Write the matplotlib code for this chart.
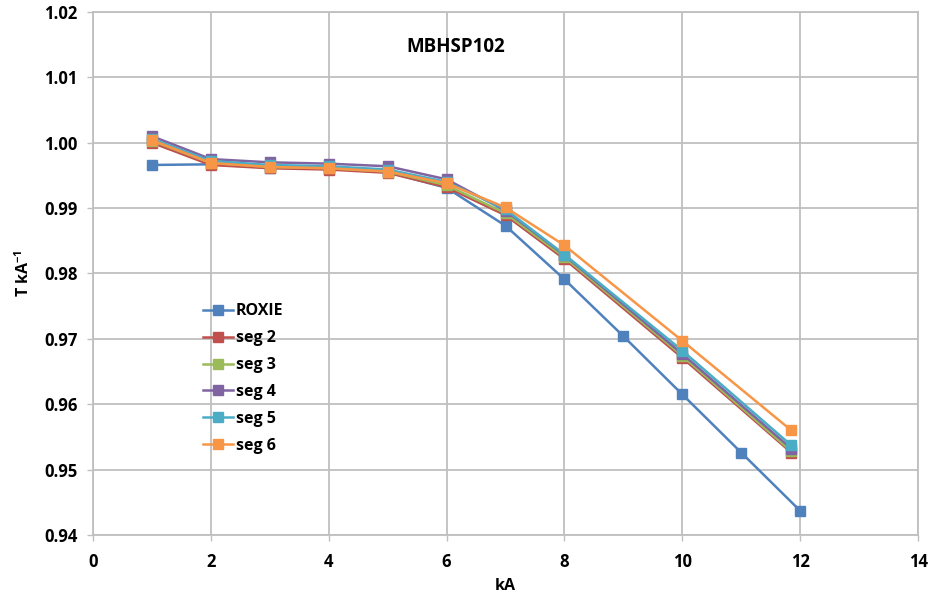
import matplotlib.pyplot as plt

# current (kA) and transfer function (T/kA) for the MBHSP102 magnet
x_roxie = [1, 2, 3, 4, 5, 6, 7, 8, 9, 10, 11, 12]
y_roxie = [0.9966, 0.9967, 0.9962, 0.9960, 0.9955, 0.9931,
           0.9873, 0.9791, 0.9704, 0.9615, 0.9526, 0.9437]

x_seg = [1, 2, 3, 4, 5, 6, 7, 8, 10, 11.85]
y_seg2 = [1.0000, 0.9966, 0.9961, 0.9959, 0.9954, 0.9932, 0.9889, 0.9822, 0.9671, 0.9526]
y_seg3 = [1.0003, 0.9969, 0.9963, 0.9961, 0.9956, 0.9935, 0.9892, 0.9825, 0.9674, 0.9528]
y_seg4 = [1.0010, 0.9975, 0.9970, 0.9968, 0.9964, 0.9944, 0.9896, 0.9828, 0.9677, 0.9532]
y_seg5 = [1.0006, 0.9972, 0.9966, 0.9964, 0.9959, 0.9940, 0.9898, 0.9829, 0.9682, 0.9537]
y_seg6 = [1.0004, 0.9969, 0.9963, 0.9961, 0.9956, 0.9938, 0.9901, 0.9843, 0.9697, 0.9560]

series = [
    ("ROXIE", x_roxie, y_roxie, "#4F81BD"),
    ("seg 2", x_seg, y_seg2, "#C0504D"),
    ("seg 3", x_seg, y_seg3, "#9BBB59"),
    ("seg 4", x_seg, y_seg4, "#8064A2"),
    ("seg 5", x_seg, y_seg5, "#4BACC6"),
    ("seg 6", x_seg, y_seg6, "#F79646"),
]

plt.rcParams['font.family'] = ['Open Sans', 'DejaVu Sans']
plt.rcParams['font.weight'] = 'bold'
plt.rcParams['mathtext.default'] = 'regular'

fig = plt.figure(figsize=(9.33, 5.93), dpi=100)
ax = fig.add_axes([0.0997, 0.0978, 0.8843, 0.882])

for name, xs, ys, c in series:
    ax.plot(xs, ys, color=c, lw=1.8, marker='s', ms=7.5, label=name)

ax.set_xlim(0, 14)
ax.set_ylim(0.94, 1.02)
ax.set_xticks(range(0, 15, 2))
ax.set_yticks([0.94 + 0.01 * i for i in range(9)])
ax.set_yticklabels([f"{0.94 + 0.01 * i:.2f}" for i in range(9)])
ax.grid(True, color='#BFBFBF', lw=1.3)
ax.set_axisbelow(True)
for s in ax.spines.values():
    s.set_color('#BFBFBF')
    s.set_linewidth(1.3)
ax.tick_params(axis='both', colors='#BFBFBF', labelcolor='black',
               labelsize=12, length=4, width=1)
for lbl in ax.get_xticklabels() + ax.get_yticklabels():
    lbl.set_fontweight('bold')
ax.xaxis.set_tick_params(pad=9)
ax.yaxis.set_tick_params(pad=7)

ax.set_xlabel("kA", fontsize=11.5, fontweight='bold', labelpad=5)
ax.set_ylabel("T kA$^{-1}$", fontsize=11.5, fontweight='bold', labelpad=8)
ax.text(6.15, 1.0147, "MBHSP102", fontsize=13.5, fontweight='bold',
        ha='center', va='center')

leg = ax.legend(loc='upper left', bbox_to_anchor=(0.125, 0.455), frameon=False,
                fontsize=11.5, handlelength=1.9, handletextpad=0.2,
                labelspacing=0.68, borderaxespad=0)
for t in leg.get_texts():
    t.set_fontweight('bold')

fig.savefig("out.png", dpi=100)
